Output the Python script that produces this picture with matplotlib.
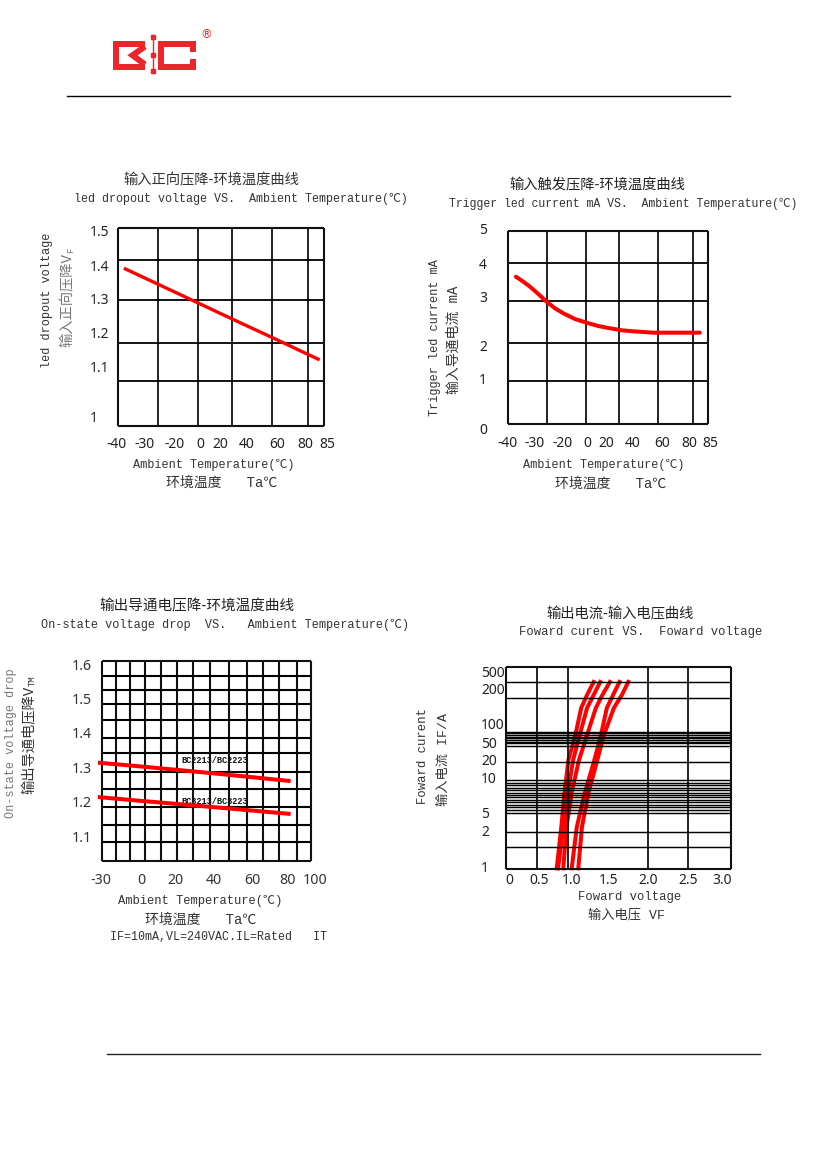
"""Datasheet page: four characteristic curves of a solid state relay."""

import numpy as np
import matplotlib

matplotlib.use("Agg")
import matplotlib.pyplot as plt  # noqa: E402

W, H, DPI = 826, 1169, 100
PT = 72 / DPI  # points per pixel

RED = "#ff0000"
LOGO_RED = "#e8262b"
TICK_FONT = ["Noto Sans", "DejaVu Sans"]
MONO = ["Liberation Mono", "Noto Sans CJK SC", "DejaVu Sans"]
CJK = ["Noto Sans CJK SC", "DejaVu Sans"]

# ---- data -----------------------------------------------------------------
# 1) input forward voltage drop vs ambient temperature
c1_temp = [-37, -20, 0, 20, 40, 60, 80, 83]
c1_vf = [1.395, 1.324, 1.289, 1.262, 1.226, 1.186, 1.147, 1.129]
c1_xticks = [-40, -30, -20, 0, 20, 40, 60, 80, 85]
c1_yticks = [1.0, 1.1, 1.2, 1.3, 1.4, 1.5]
c1_ylabels = ["1", "1.1", "1.2", "1.3", "1.4", "1.5"]

# 2) trigger led current vs ambient temperature
c2_temp = [-36.9, -34.2, -31.8, -28.8, -25.8, -22.8, -19.5, -10.2, -0.8,
           11.6, 23.0, 31.8, 40.4, 53.9, 82.5]
c2_ift = [3.663, 3.509, 3.356, 3.132, 2.931, 2.798, 2.696, 2.581, 2.506,
          2.439, 2.393, 2.352, 2.332, 2.304, 2.304]
c2_xticks = [-40, -30, -20, 0, 20, 40, 60, 80, 85]
c2_yticks = [0, 1, 2, 3, 4, 5]
c2_ylabels = ["0", "1", "2", "3", "4", "5"]

# 3) on-state voltage drop vs ambient temperature
c3_temp = [-31, 0, 40, 81]
c3_bc22 = [1.319, 1.308, 1.288, 1.266]
c3_bc32 = [1.218, 1.207, 1.189, 1.170]
c3_xticks = [-30, 0, 20, 40, 60, 80, 100]
c3_yticks = [1.1, 1.2, 1.3, 1.4, 1.5, 1.6]
c3_ylabels = ["1.1", "1.2", "1.3", "1.4", "1.5", "1.6"]

# 4) forward current vs forward voltage (five samples)
c4_if = [1, 2.7, 7.7, 22, 71, 143, 185, 320]
c4_vf_a = [0.77, 0.84, 0.89, 0.95, 1.05, 1.13, 1.21, 1.30]
c4_vf_b = [0.79, 0.87, 0.94, 1.02, 1.11, 1.21, 1.30, 1.39]
c4_vf_c = [0.87, 0.92, 1.00, 1.10, 1.21, 1.33, 1.42, 1.52]
c4_vf_d = [1.00, 1.07, 1.18, 1.31, 1.40, 1.48, 1.56, 1.64]
c4_vf_e = [1.09, 1.14, 1.23, 1.35, 1.44, 1.57, 1.67, 1.75]
c4_xticks = [0, 0.5, 1.0, 1.5, 2.0, 2.5, 3.0]
c4_xlabels = ["0", "0.5", "1.0", "1.5", "2.0", "2.5", "3.0"]
c4_yticks = [1, 2, 5, 10, 20, 50, 100, 200, 500]
c4_ylabels = ["1", "2", "5", "10", "20", "50", "100", "200", "500"]

# ---- layout (pixels on the page, y downwards) ------------------------------
L1 = dict(box=(117.7, 227.7, 323.7, 425.7),
          xt_px=[117, 145, 175, 200, 220, 247, 277, 305, 327],
          yt_px=[419, 369, 335, 300, 267.3, 232.3],
          vgrid=[158.3, 197.7, 232.3, 271.7, 308.3],
          hgrid=[260, 299.5, 342.7, 381],
          xlab_y=445, ylab_x=90, fs=10)
L2 = dict(box=(507.7, 231, 708.3, 424.3),
          xt_px=[507.3, 535, 562.7, 587.7, 606, 632.7, 662.3, 689, 710.7],
          yt_px=[430, 381, 347.7, 298.3, 265.7, 231],
          vgrid=[547.3, 585.7, 619, 657.7, 693.3],
          hgrid=[263.3, 300.7, 342.7, 380.7],
          xlab_y=443.3, ylab_x=479, fs=10)
L3 = dict(box=(102.3, 660.7, 310.7, 860.7),
          xt_px=[100.7, 141.7, 175.7, 214, 252.3, 287.3, 315],
          yt_px=[838.3, 803.3, 769.3, 735, 700, 666],
          vgrid=[115.7, 130, 145, 161, 176.7, 193.3, 210, 229.3, 246.7,
                 263.3, 279.3, 296.7],
          hgrid=[676, 690, 704.3, 720, 737.7, 753.3, 771.7, 789.3, 806.7,
                 825, 842.3],
          xlab_y=880, ylab_x=71.7, fs=10.2)
L4 = dict(box=(506, 666.7, 731, 869.3),
          xt_px=[509.3, 539.2, 571.7, 608.3, 648.3, 688.3, 721.7],
          yt_px=[868.3, 832.7, 815, 779.3, 761.7, 744.3, 726, 691, 673.3],
          vgrid=[536.7, 567.7, 647.7, 688.3],
          hgrid=[682.3, 697.7, 731.7, 733.3, 735, 736.7, 738.3, 740, 741.7,
                 743.3, 745.7, 761.7, 780, 782.7, 785, 787.7, 790, 792.7,
                 795, 797.3, 800, 802.3, 805, 807.3, 810, 813.3, 831.7,
                 846.7],
          xlab_y=880, ylab_x=481, fs=10)


def extrap(x, xs, ys):
    y = np.interp(x, xs, ys)
    lo = (ys[1] - ys[0]) / (xs[1] - xs[0])
    hi = (ys[-1] - ys[-2]) / (xs[-1] - xs[-2])
    y = np.where(x < xs[0], ys[0] + (x - xs[0]) * lo, y)
    y = np.where(x > xs[-1], ys[-1] + (x - xs[-1]) * hi, y)
    return y


def piecewise(vals, px, log=False, flip=False):
    """Scale that puts each tick value at the page position of its label."""
    v = np.log10(np.asarray(vals, float)) if log else np.asarray(vals, float)
    p = -np.asarray(px, float) if flip else np.asarray(px, float)

    def fwd(x):
        x = np.asarray(x, float)
        if log:
            x = np.log10(np.clip(x, 1e-12, None))
        return extrap(x, v, p)

    def inv(y):
        out = extrap(np.asarray(y, float), p, v)
        return 10 ** out if log else out

    return fwd, inv


def make_chart(fig, lay, xt, xlabels, yt, ylabels, logy=False,
               glw=1.3, hlw=None, tick_color="#222"):
    fx, ix = piecewise(xt, lay["xt_px"])
    fy, iy = piecewise(yt, lay["yt_px"], log=logy, flip=True)
    bl, bt, br, bb = lay["box"]
    l = min(bl, lay["xt_px"][0]) - 3
    r = max(br, lay["xt_px"][-1]) + 3
    t = min(bt, min(lay["yt_px"])) - 3
    b = max(bb, max(lay["yt_px"])) + 3
    ax = fig.add_axes([l / W, 1 - b / H, (r - l) / W, (b - t) / H])
    ax.set_xscale("function", functions=(fx, ix))
    ax.set_yscale("function", functions=(fy, iy))
    ax.set_xlim(float(ix(l)), float(ix(r)))
    ax.set_ylim(float(iy(-b)), float(iy(-t)))
    ax.patch.set_visible(False)
    for s in ax.spines.values():
        s.set_visible(False)

    x0, x1 = float(ix(bl)), float(ix(br))
    y0, y1 = float(iy(-bb)), float(iy(-bt))
    gx = ix(np.asarray(lay["vgrid"], float))
    gy = iy(-np.asarray(lay["hgrid"], float))
    ax.vlines(gx, y0, y1, colors="#111", lw=glw, zorder=2)
    ax.hlines(gy, x0, x1, colors="#000", lw=hlw or glw, zorder=2)
    ax.vlines([x0, x1], y0, y1, colors="#111", lw=1.5, zorder=2)
    ax.hlines([y0, y1], x0, x1, colors="#111", lw=1.5, zorder=2)

    ax.set_xticks(xt, xlabels, va="center", fontsize=lay["fs"],
                  family=TICK_FONT, color=tick_color)
    ax.set_yticks(yt, ylabels, ha="left", va="center", fontsize=lay["fs"],
                  family=TICK_FONT, color=tick_color)
    ax.tick_params(axis="x", length=0, pad=(lay["xlab_y"] - b) * PT)
    ax.tick_params(axis="y", length=0, pad=(l - lay["ylab_x"]) * PT)
    ax.minorticks_off()
    return ax


fig = plt.figure(figsize=(W / DPI, H / DPI), dpi=DPI)
ov = fig.add_axes([0, 0, 1, 1])
ov.set_xlim(0, W)
ov.set_ylim(H, 0)
ov.axis("off")
ov.patch.set_visible(False)


def txt(x, y, s, size, family=MONO, color="#333", **kw):
    return ov.text(x, y, s, ha="center", va="center", fontsize=size,
                   family=family, color=color, **kw)


def vlabel(x, y, s, size, family=MONO, color="#333", sub=None):
    t = ov.text(x, y, s, ha="center", va="center", rotation=90,
                fontsize=size, family=family, color=color)
    if sub:
        ov.annotate(sub, xy=(0.72, 1.0), xycoords=t, rotation=90,
                    ha="center", va="bottom", fontsize=size * 0.62,
                    family=MONO, color=color)
    return t


# ---- header / footer -------------------------------------------------------
logo = [
    ([145, 115.5, 115.5, 145], [44, 44, 66.5, 66.5]),
    ([145, 132.5, 145], [46.5, 55.3, 64.5]),
    ([195.7, 161, 161, 195.7], [44, 44, 66.5, 66.5]),
    ([193.2, 193.2], [42, 52]),
    ([193.2, 193.2], [59, 68.5]),
]
for xs, ys in logo:
    ov.plot(xs, ys, color=LOGO_RED, lw=4.3, solid_joinstyle="miter",
            solid_capstyle="butt")
ov.plot([153.3, 153.3], [35, 73], color=LOGO_RED, lw=1.0)
ov.plot([153.3] * 3, [37, 55, 71], ls="none", marker="s", ms=2.5,
        color=LOGO_RED)
ov.text(206, 34.5, "®", ha="center", va="center", fontsize=8.5,
        color=LOGO_RED, family=["DejaVu Sans"])
ov.plot([67, 730], [95.7, 95.7], color="black", lw=1.0)
ov.plot([107, 760], [1053.5, 1053.5], color="#222", lw=1.0)

# ---- chart 1 ---------------------------------------------------------------
ax1 = make_chart(fig, L1, c1_xticks, [str(v) for v in c1_xticks],
                 c1_yticks, c1_ylabels)
ax1.plot(c1_temp, c1_vf, color=RED, lw=2.4, zorder=3)
txt(211.7, 180, "输入正向压降-环境温度曲线", 10.3, CJK, "#333")
txt(240.8, 199, "led dropout voltage VS.  Ambient Temperature(℃)", 8.5)
vlabel(46.7, 300, "led dropout voltage", 8.6)
vlabel(67.7, 300, "输入正向压降V", 10.3, color="#777", sub="F")
txt(214, 465, "Ambient Temperature(℃)", 8.6)
txt(221.7, 483, "环境温度   Ta℃", 10)

# ---- chart 2 ---------------------------------------------------------------
ax2 = make_chart(fig, L2, c2_xticks, [str(v) for v in c2_xticks],
                 c2_yticks, c2_ylabels)
ax2.plot(c2_temp, c2_ift, color=RED, lw=2.9, zorder=3,
         solid_capstyle="round", solid_joinstyle="round")
txt(597.5, 185, "输入触发压降-环境温度曲线", 10.3, CJK, "#222")
txt(623, 204, "Trigger led current mA VS.  Ambient Temperature(℃)", 8.3)
vlabel(435, 337.5, "Trigger led current mA", 8.6)
vlabel(453.3, 340, "输入导通电流 mA", 10)
txt(603.7, 465, "Ambient Temperature(℃)", 8.6)
txt(611, 483.3, "环境温度   Ta℃", 10)

# ---- chart 3 ---------------------------------------------------------------
ax3 = make_chart(fig, L3, c3_xticks, [str(v) for v in c3_xticks],
                 c3_yticks, c3_ylabels, glw=1.5, tick_color="#333")
ax3.plot(c3_temp, c3_bc22, color=RED, lw=2.9, zorder=3)
ax3.plot(c3_temp, c3_bc32, color=RED, lw=2.9, zorder=3)
txt(214.3, 760.7, "BC2213/BC2223", 6.2, MONO, "#111", weight="bold")
txt(214.3, 801.7, "BC3213/BC3223", 6.2, MONO, "#111", weight="bold")
txt(197, 606.7, "输出导通电压降-环境温度曲线", 10.5, CJK, "#222")
txt(225, 625, "On-state voltage drop  VS.   Ambient Temperature(℃)", 8.6)
vlabel(11, 743.3, "On-state voltage drop", 8.6, color="#777")
vlabel(29.3, 740, "输出导通电压降V", 10.3, color="#333", sub="TM")
txt(200, 900.7, "Ambient Temperature(℃)", 8.7)
txt(200.8, 919.3, "环境温度   Ta℃", 10)
txt(218.3, 936.7, "IF=10mA,VL=240VAC.IL=Rated   IT", 8.4)

# ---- chart 4 ---------------------------------------------------------------
ax4 = make_chart(fig, L4, c4_xticks, c4_xlabels, c4_yticks, c4_ylabels,
                 logy=True, glw=1.3, hlw=1.05)
for vf in (c4_vf_a, c4_vf_b, c4_vf_c, c4_vf_d, c4_vf_e):
    ax4.plot(vf, c4_if, color=RED, lw=2.9, zorder=1.5,
             solid_joinstyle="round")
txt(620, 614, "输出电流-输入电压曲线", 10.3, CJK, "#222")
txt(640.8, 632.3, "Foward curent VS.  Foward voltage", 8.8)
vlabel(422.7, 755.8, "Foward curent", 8.8)
vlabel(443.3, 759, "输入电流 IF/A", 9.5)
txt(629.7, 896.7, "Foward voltage", 8.8)
txt(627, 915, "输入电压 VF", 9.5)

fig.savefig("out.png", dpi=DPI)
